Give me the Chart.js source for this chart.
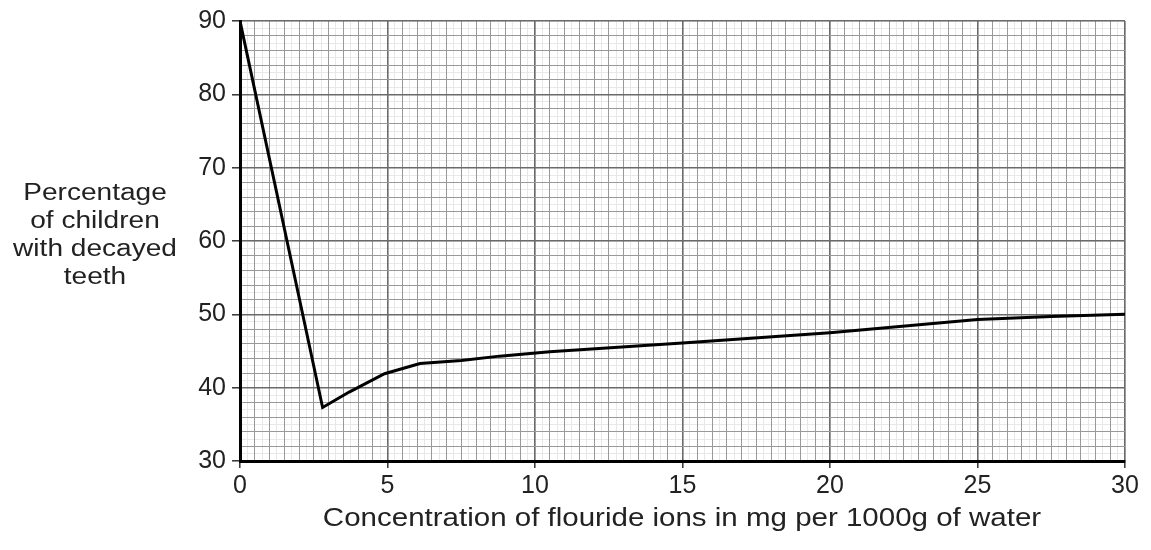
<!DOCTYPE html>
<html>
<head>
<meta charset="utf-8">
<title>Fluoride and tooth decay</title>
<script src="https://cdn.jsdelivr.net/npm/chart.js@4.4.1/dist/chart.umd.min.js"></script>
<style>
    body { margin: 0; background: #fff; }
    canvas { display: block; }
</style>
</head>
<body>
<canvas id="fluorChart" width="1151" height="550"></canvas>
<script>
// Werte
const concentration = [0, 2.8, 3.7, 4.9, 6.1, 7.5, 8.8, 10.5, 15, 20, 25, 27.5, 30];
const percentDecayed = [90, 37.3, 39.4, 41.9, 43.3, 43.7, 44.3, 44.9, 46.1, 47.5, 49.3, 49.7, 50.0];

const xLabelStep = 5;
const yLabelStep = 10;
const xTitle = "Concentration of flouride ions in mg per 1000g of water";
const yTitleLines = ["Percentage", "of children", "with decayed", "teeth"];

const textColor = "#222";
const fontFamily = '"Liberation Sans", Arial, sans-serif';

// Achsentitel selbst zeichnen (waagerecht, leicht gestreckt wie im Original)
const titlePlugin = {
    id: "axisTitles",
    afterDraw(chart) {
        const ctx = chart.ctx;
        ctx.save();
        ctx.fillStyle = textColor;
        ctx.textAlign = "center";
        ctx.textBaseline = "middle";

        ctx.font = `25px ${fontFamily}`;
        ctx.save();
        ctx.translate(682, 519);
        ctx.scale(1.18, 1);
        ctx.fillText(xTitle, 0, 0);
        ctx.restore();

        ctx.font = `23px ${fontFamily}`;
        yTitleLines.forEach((line, i) => {
            ctx.save();
            ctx.translate(95, 194 + i * 28);
            ctx.scale(1.22, 1);
            ctx.fillText(line, 0, 0);
            ctx.restore();
        });
        ctx.restore();
    }
};

const isMajor = (v, step) => Math.abs(v / step - Math.round(v / step)) < 1e-6;

const ctx = document.getElementById("fluorChart").getContext("2d");
new Chart(ctx, {
    type: "scatter",
    data: {
        datasets: [{
            data: concentration.map((x, i) => ({ x, y: percentDecayed[i] })),
            showLine: true,
            borderColor: "#000",
            borderWidth: 3,
            pointRadius: 0,
            tension: 0
        }]
    },
    options: {
        responsive: false,
        animation: false,
        layout: { padding: { top: 19, right: 26, left: 0, bottom: 0 } },
        plugins: {
            legend: { display: false },
            tooltip: { enabled: false }
        },
        scales: {
            // feines Millimeterraster
            x2: {
                type: "linear", position: "bottom", min: 0, max: 30,
                afterFit: s => { s.height = 0; },
                ticks: { display: false, stepSize: 0.25, maxTicksLimit: 500 },
                grid: { color: "#e8e8e8", lineWidth: 1, drawTicks: false, z: -2 },
                border: { display: false }
            },
            y2: {
                type: "linear", position: "left", min: 30, max: 90,
                afterFit: s => { s.width = 0; },
                ticks: { display: false, stepSize: 1, maxTicksLimit: 500 },
                grid: { color: "#e8e8e8", lineWidth: 1, drawTicks: false, z: -2 },
                border: { display: false }
            },
            x: {
                type: "linear", position: "bottom", min: 0, max: 30,
                afterFit: s => { s.height = 89; },
                ticks: {
                    stepSize: 0.5,
                    maxTicksLimit: 500,
                    autoSkip: false,
                    maxRotation: 0,
                    padding: 3,
                    color: textColor,
                    font: { family: fontFamily, size: 25 },
                    callback: v => isMajor(v, xLabelStep) ? v : ""
                },
                grid: {
                    color: c => isMajor(c.tick.value, xLabelStep) ? "#6a6a6a" : "#999",
                    lineWidth: c => isMajor(c.tick.value, xLabelStep) ? 1.6 : 1,
                    tickColor: c => isMajor(c.tick.value, xLabelStep) ? "#333" : "rgba(0,0,0,0)",
                    tickLength: 7,
                    tickWidth: 1.5
                },
                border: { color: "#000", width: 3 }
            },
            y: {
                type: "linear", position: "left", min: 30, max: 90,
                afterFit: s => { s.width = 240; },
                ticks: {
                    stepSize: 2,
                    maxTicksLimit: 500,
                    autoSkip: false,
                    padding: 6,
                    color: textColor,
                    font: { family: fontFamily, size: 25 },
                    callback: v => isMajor(v, yLabelStep) ? v : ""
                },
                grid: {
                    color: c => isMajor(c.tick.value, yLabelStep) ? "#6a6a6a" : "#999",
                    lineWidth: c => isMajor(c.tick.value, yLabelStep) ? 1.6 : 1,
                    tickColor: c => isMajor(c.tick.value, yLabelStep) ? "#333" : "rgba(0,0,0,0)",
                    tickLength: 8,
                    tickWidth: 1.5
                },
                border: { color: "#000", width: 3 }
            }
        }
    },
    plugins: [titlePlugin]
});
</script>
</body>
</html>
